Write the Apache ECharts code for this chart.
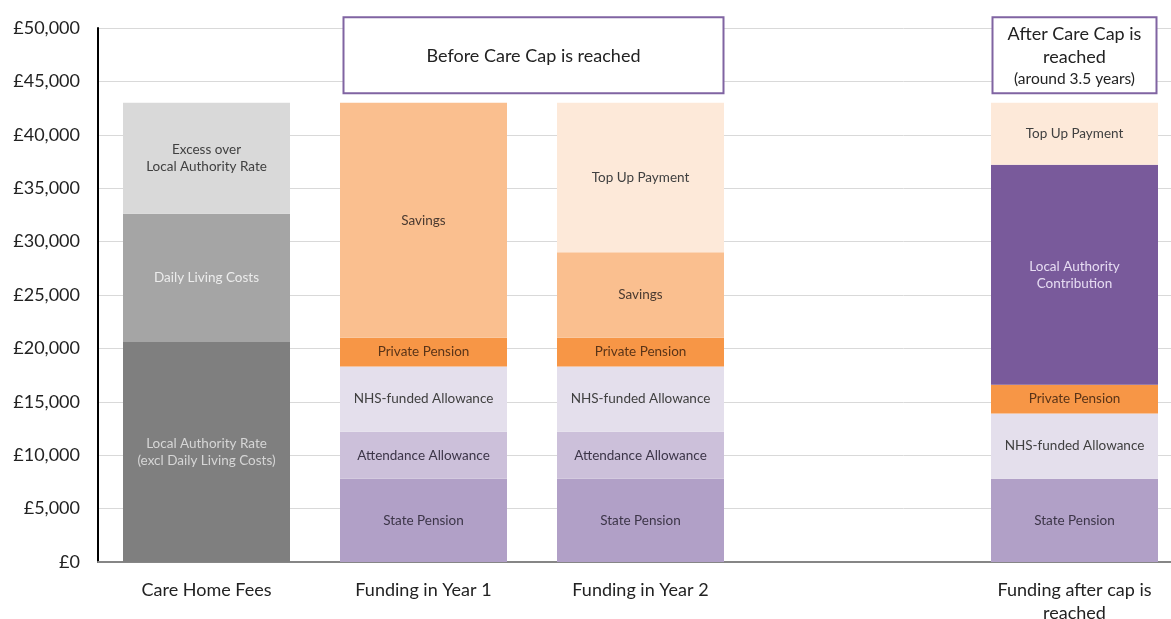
<!DOCTYPE html>
<html>
<head>
<meta charset="utf-8">
<script src="https://cdn.jsdelivr.net/npm/echarts@6/dist/echarts.min.js"></script>
<style>
  html, body { margin: 0; padding: 0; background: #fff; }
  #main { width: 1171px; height: 619px; }
</style>
</head>
<body>
<div id="main"></div>
<script>
// categories (one empty slot between Year 2 and after cap)
const categories = ['Care Home Fees', 'Funding in Year 1', 'Funding in Year 2', '', 'Funding after cap is\nreached']
const yTicks = [0, 5000, 10000, 15000, 20000, 25000, 30000, 35000, 40000, 45000, 50000]

// segment names (used as labels), bottom to top
const segNames = [
  'Local Authority Rate\n(excl Daily Living Costs)',
  'Daily Living Costs',
  'Excess over\nLocal Authority Rate',
  'State Pension',
  'Attendance Allowance',
  'NHS-funded Allowance',
  'Private Pension',
  'Savings',
  'Local Authority\nContribution',
  'Top Up Payment'
]

// values per segment for each category ('-' = not present)
const laRate        = [20600, '-', '-', '-', '-']
const dailyLiving   = [12000, '-', '-', '-', '-']
const excess        = [10400, '-', '-', '-', '-']
const statePension  = ['-', 7800, 7800, '-', 7800]
const attendance    = ['-', 4400, 4400, '-', '-']
const nhsAllowance  = ['-', 6100, 6100, '-', 6100]
const privatePension= ['-', 2700, 2700, '-', 2700]
const savings       = ['-', 22000, 8000, '-', '-']
const laContribution= ['-', '-', '-', '-', 20600]
const topUp         = ['-', '-', 14000, '-', 5800]

const segData = [laRate, dailyLiving, excess, statePension, attendance, nhsAllowance, privatePension, savings, laContribution, topUp]
const segColors = ['#7f7f7f', '#a5a5a5', '#d9d9d9', '#b1a0c7', '#ccc0da', '#e4dfec', '#f79646', '#fabf8f', '#795a9b', '#fde9d9']
const labelColors = ['#d6d6d6', '#ececec', '#404040', '#3c3548', '#3c3548', '#404040', '#5a3418', '#4a3a30', '#e6dcf2', '#404040']

// annotation boxes above the bars
const boxTexts = ['Before Care Cap is reached', 'After Care Cap is\nreached\n{s|(around 3.5 years)}']

const FONT = 'Lato, "Open Sans", sans-serif'
const myChart = echarts.init(document.getElementById('main'))

const series = segNames.map((name, i) => ({
  name: name,
  type: 'bar',
  stack: 'total',
  barWidth: 167,
  data: segData[i],
  itemStyle: { color: segColors[i] },
  label: {
    show: true,
    position: 'inside',
    formatter: name,
    color: labelColors[i],
    fontFamily: FONT,
    fontSize: 13.5,
    lineHeight: 17
  },
  emphasis: { disabled: true }
}))

myChart.setOption({
  animation: false,
  grid: { left: 98, right: -12, top: 28, bottom: 57, outerBoundsMode: 'none', containLabel: false },
  xAxis: {
    type: 'category',
    data: categories,
    axisLine: { lineStyle: { color: '#868686', width: 2 } },
    axisTick: { show: false },
    axisLabel: { color: '#222', fontFamily: FONT, fontSize: 18, margin: 17, lineHeight: 23 }
  },
  yAxis: {
    type: 'value',
    min: 0,
    max: 50000,
    interval: 5000,
    axisLine: { show: true, lineStyle: { color: '#000', width: 2 } },
    axisTick: { show: false },
    splitLine: { lineStyle: { color: '#d9d9d9', width: 1 } },
    axisLabel: {
      color: '#222',
      fontFamily: FONT,
      fontSize: 18,
      margin: 18,
      formatter: v => yTicks.includes(v) ? '£' + v.toLocaleString('en-GB') : ''
    }
  },
  series: series
})

// boxes placed through the chart's own scales
const x1 = myChart.convertToPixel({ xAxisIndex: 0 }, 1)
const x2 = myChart.convertToPixel({ xAxisIndex: 0 }, 2)
const x4 = myChart.convertToPixel({ xAxisIndex: 0 }, 4)
const yTop = myChart.convertToPixel({ yAxisIndex: 0 }, 51000)
const yBot = myChart.convertToPixel({ yAxisIndex: 0 }, 43900)
const half = 83

function box(left, right, text) {
  return {
    type: 'group',
    children: [
      {
        type: 'rect',
        shape: { x: left, y: yTop, width: right - left, height: yBot - yTop },
        style: { fill: '#fff', stroke: '#8064a2', lineWidth: 2 }
      },
      {
        type: 'text',
        x: (left + right) / 2,
        y: (yTop + yBot) / 2 + 1,
        style: {
          text: text,
          align: 'center',
          verticalAlign: 'middle',
          fill: '#222',
          font: '18px ' + FONT,
          lineHeight: 23,
          rich: { s: { fontSize: 15.5, fontFamily: FONT, fill: '#222', lineHeight: 22 } }
        }
      }
    ]
  }
}

myChart.setOption({
  graphic: [
    box(x1 - half + 3, x2 + half, boxTexts[0]),
    box(x4 - half + 1, x4 + half - 1, boxTexts[1])
  ]
})
</script>
</body>
</html>
